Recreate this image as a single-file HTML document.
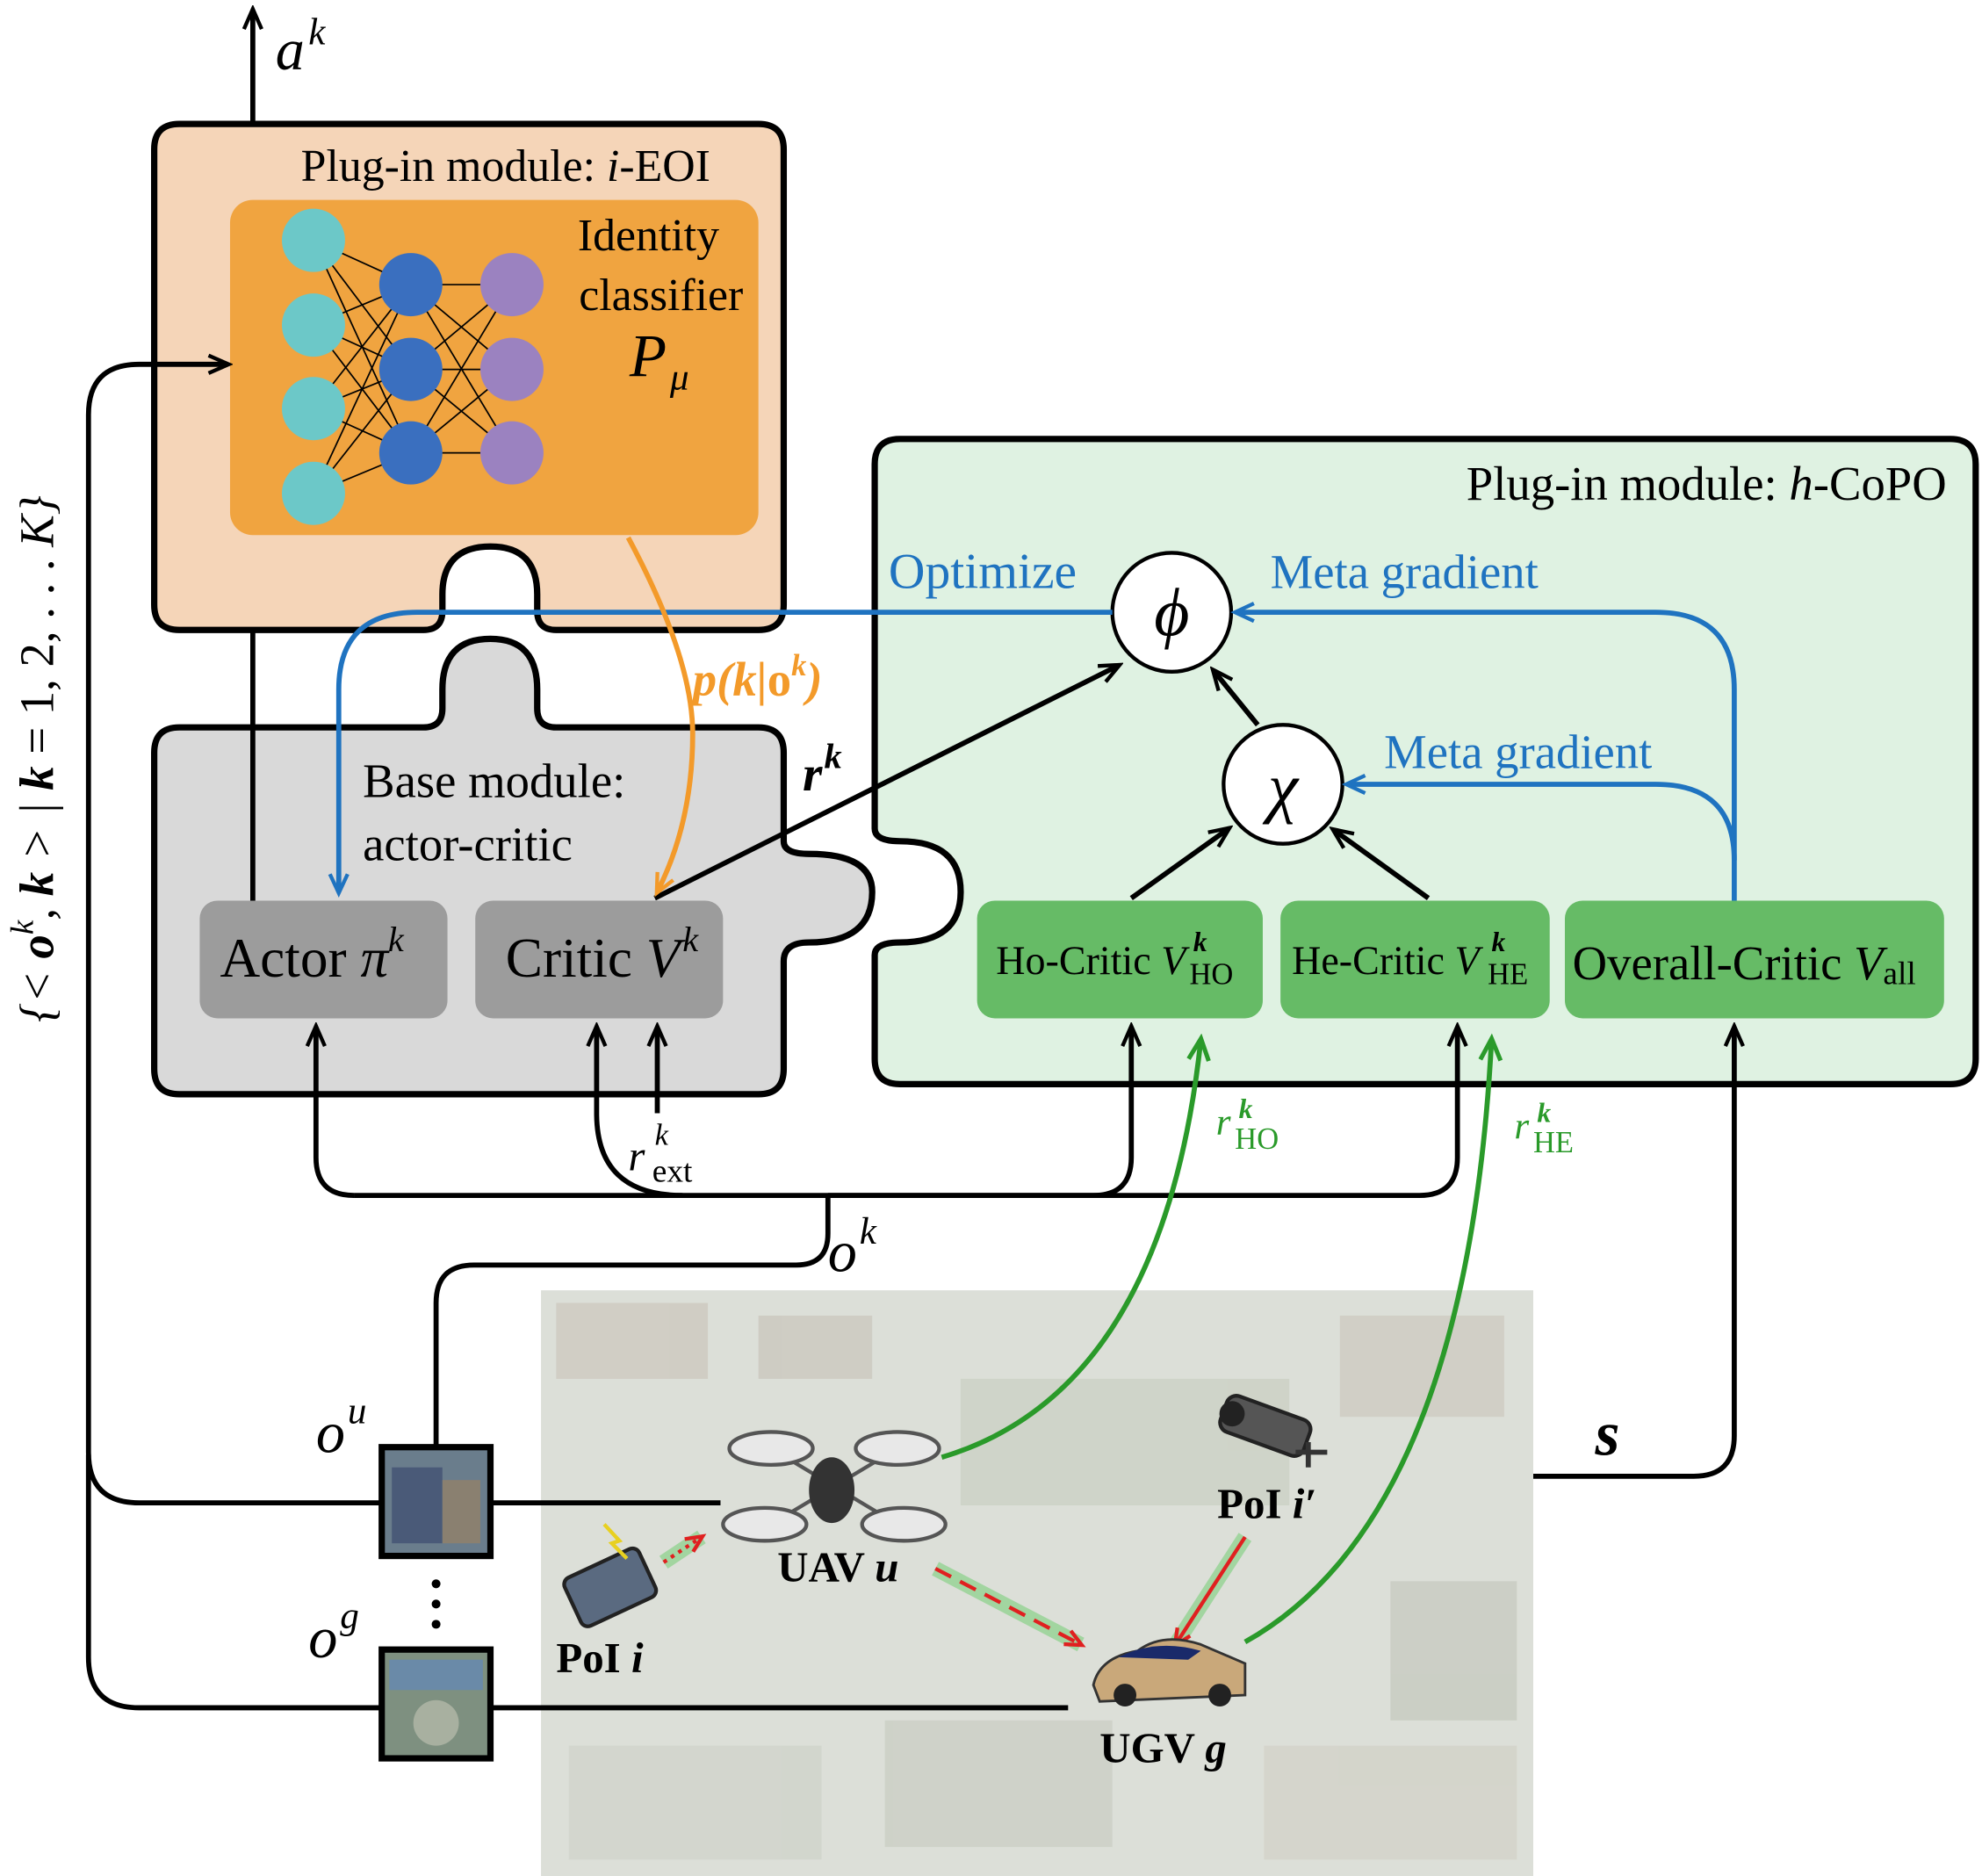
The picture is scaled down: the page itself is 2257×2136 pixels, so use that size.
<!DOCTYPE html>
<html><head><meta charset="utf-8"><style>
html,body{margin:0;padding:0;background:#fff}
svg{display:block}
text{font-family:"Liberation Serif",serif}
</style></head><body>
<svg width="2257" height="2136" viewBox="0 0 1568 1483" preserveAspectRatio="none" xmlns="http://www.w3.org/2000/svg">
<defs>
<marker id="ak" markerWidth="20" markerHeight="20" refX="16" refY="8" orient="auto" markerUnits="userSpaceOnUse" viewBox="0 0 20 16"><path d="M1,1 L17,8 L1,15" fill="none" stroke="#000" stroke-width="3"/></marker>
<marker id="ab" markerWidth="20" markerHeight="20" refX="15" refY="8" orient="auto" markerUnits="userSpaceOnUse" viewBox="0 0 20 16"><path d="M1,1 L16,8 L1,15" fill="none" stroke="#1f73c0" stroke-width="3"/></marker>
<marker id="ao" markerWidth="20" markerHeight="20" refX="15" refY="8" orient="auto" markerUnits="userSpaceOnUse" viewBox="0 0 20 16"><path d="M1,1 L16,8 L1,15" fill="none" stroke="#f39a2a" stroke-width="3"/></marker>
<marker id="ag" markerWidth="22" markerHeight="22" refX="17" refY="9" orient="auto" markerUnits="userSpaceOnUse" viewBox="0 0 22 18"><path d="M1,1 L18,9 L1,17" fill="none" stroke="#2a9a2a" stroke-width="3.5"/></marker>
<marker id="ar" markerWidth="18" markerHeight="18" refX="13" refY="7" orient="auto" markerUnits="userSpaceOnUse" viewBox="0 0 18 14"><path d="M1,1 L14,7 L1,13" fill="none" stroke="#e02020" stroke-width="3"/></marker>
</defs>

<rect x="428" y="1020" width="785" height="463" fill="#dcdfd8"/>
<g opacity="0.25">
<rect x="440" y="1030" width="120" height="60" fill="#b09a8a"/>
<rect x="600" y="1040" width="90" height="50" fill="#a89888"/>
<rect x="1060" y="1040" width="130" height="80" fill="#b0a090"/>
<rect x="1100" y="1250" width="100" height="110" fill="#9aa090"/>
<rect x="450" y="1380" width="200" height="90" fill="#b8bcb0"/>
<rect x="700" y="1360" width="180" height="100" fill="#a8ac9c"/>
<rect x="1000" y="1380" width="200" height="90" fill="#c0b8a8"/>
<rect x="760" y="1090" width="260" height="100" fill="#a9b39c"/>
</g>

<path d="M142,98 H600 Q620,98 620,118 V478 Q620,498 600,498 H440 Q425,498 425,483 V470 Q425,432 388,432 Q350,432 350,470 V483 Q350,498 335,498 H142 Q122,498 122,478 V118 Q122,98 142,98 Z" fill="#f5d5b8" stroke="#000" stroke-width="5"/>
<rect x="182" y="158" width="418" height="265" rx="18" fill="#f0a440"/>
<g stroke="#000" stroke-width="1.2">
<line x1="248" y1="190" x2="325" y2="225"/><line x1="248" y1="190" x2="325" y2="292"/><line x1="248" y1="190" x2="325" y2="358"/>
<line x1="248" y1="257" x2="325" y2="225"/><line x1="248" y1="257" x2="325" y2="292"/><line x1="248" y1="257" x2="325" y2="358"/>
<line x1="248" y1="323" x2="325" y2="225"/><line x1="248" y1="323" x2="325" y2="292"/><line x1="248" y1="323" x2="325" y2="358"/>
<line x1="248" y1="390" x2="325" y2="225"/><line x1="248" y1="390" x2="325" y2="292"/><line x1="248" y1="390" x2="325" y2="358"/>
<line x1="325" y1="225" x2="405" y2="225"/><line x1="325" y1="225" x2="405" y2="292"/><line x1="325" y1="225" x2="405" y2="358"/>
<line x1="325" y1="292" x2="405" y2="225"/><line x1="325" y1="292" x2="405" y2="292"/><line x1="325" y1="292" x2="405" y2="358"/>
<line x1="325" y1="358" x2="405" y2="225"/><line x1="325" y1="358" x2="405" y2="292"/><line x1="325" y1="358" x2="405" y2="358"/>
</g>
<g fill="#6cc8c8"><circle cx="248" cy="190" r="25"/><circle cx="248" cy="257" r="25"/><circle cx="248" cy="323" r="25"/><circle cx="248" cy="390" r="25"/></g>
<g fill="#3a6fbf"><circle cx="325" cy="225" r="25"/><circle cx="325" cy="292" r="25"/><circle cx="325" cy="358" r="25"/></g>
<g fill="#9b82c0"><circle cx="405" cy="225" r="25"/><circle cx="405" cy="292" r="25"/><circle cx="405" cy="358" r="25"/></g>
<text x="400" y="143" font-size="36" text-anchor="middle">Plug-in module: <tspan font-style="italic">i</tspan>-EOI</text>
<text x="513" y="198" font-size="36" text-anchor="middle">Identity</text>
<text x="523" y="245" font-size="36" text-anchor="middle">classifier</text>
<text x="498" y="297" font-size="48" font-style="italic">P</text><text x="530" y="308" font-size="30" font-style="italic">μ</text>

<path d="M142,575 H335 Q350,575 350,560 V545 Q350,505 388,505 Q425,505 425,545 V560 Q425,575 440,575 H600 Q620,575 620,595 V665 Q620,675 640,675 Q690,675 690,705 Q690,745 640,745 Q620,745 620,760 V845 Q620,865 600,865 H142 Q122,865 122,845 V595 Q122,575 142,575 Z" fill="#d9d9d9" stroke="#000" stroke-width="5"/>
<text x="287" y="630" font-size="38">Base module:</text>
<text x="287" y="680" font-size="38">actor-critic</text>
<rect x="158" y="712" width="196" height="93" rx="14" fill="#9c9c9c"/>
<rect x="376" y="712" width="196" height="93" rx="14" fill="#9c9c9c"/>
<text x="174" y="772" font-size="44">Actor <tspan font-style="italic">π</tspan></text><text x="307" y="752" font-size="28" font-style="italic">k</text>
<text x="400" y="772" font-size="44">Critic <tspan font-style="italic">V</tspan></text><text x="540" y="752" font-size="28" font-style="italic">k</text>

<path d="M712,347 H1543 Q1563,347 1563,367 V837 Q1563,857 1543,857 H712 Q692,857 692,837 V755 Q692,745 712,745 Q760,745 760,705 Q760,665 712,665 Q692,665 692,655 V367 Q692,347 712,347 Z" fill="#dff2e2" stroke="#000" stroke-width="5"/>
<text x="1540" y="395" font-size="38" text-anchor="end">Plug-in module: <tspan font-style="italic">h</tspan>-CoPO</text>
<rect x="773" y="712" width="226" height="93" rx="14" fill="#66bb66"/>
<rect x="1013" y="712" width="213" height="93" rx="14" fill="#66bb66"/>
<rect x="1238" y="712" width="300" height="93" rx="14" fill="#66bb66"/>
<text x="788" y="770" font-size="32">Ho-Critic <tspan font-style="italic">V</tspan></text>
<text x="944" y="752" font-size="22" font-style="italic" font-weight="bold">k</text>
<text x="941" y="778" font-size="24">HO</text>
<text x="1022" y="770" font-size="32">He-Critic <tspan font-style="italic">V</tspan></text>
<text x="1180" y="752" font-size="22" font-style="italic" font-weight="bold">k</text>
<text x="1177" y="778" font-size="24">HE</text>
<text x="1244" y="774" font-size="38">Overall-Critic <tspan font-style="italic">V</tspan><tspan font-size="26" dy="4">all</tspan></text>

<circle cx="927" cy="484" r="47" fill="#fff" stroke="#000" stroke-width="3"/>
<text x="927" y="502" font-size="54" font-style="italic" text-anchor="middle">ϕ</text>
<circle cx="1015" cy="620" r="47" fill="#fff" stroke="#000" stroke-width="3"/>
<text x="1015" y="640" font-size="54" font-style="italic" text-anchor="middle">χ</text>

<g fill="none" stroke="#1f73c0" stroke-width="4">
<path d="M880,484 H330 Q268,484 268,545 V705" marker-end="url(#ab)"/>
<path d="M1372,712 V545 Q1372,484 1310,484 H978" marker-end="url(#ab)"/>
<path d="M1372,680 Q1372,620 1310,620 H1066" marker-end="url(#ab)"/>
</g>
<text x="703" y="465" font-size="40" fill="#1f73c0">Optimize</text>
<text x="1005" y="465" font-size="38" fill="#1f73c0">Meta gradient</text>
<text x="1095" y="607" font-size="38" fill="#1f73c0">Meta gradient</text>

<g fill="none" stroke="#000" stroke-width="4" marker-end="url(#ak)">
<path d="M518,710 L885,526"/>
<path d="M895,710 L972,655"/>
<path d="M1130,710 L1055,656"/>
<path d="M995,573 L960,530"/>
</g>
<text x="635" y="625" font-size="40" font-style="italic" font-weight="bold">r</text><text x="652" y="607" font-size="28" font-style="italic" font-weight="bold">k</text>

<path d="M497,425 Q548,520 548,580 Q548,650 520,705" fill="none" stroke="#f39a2a" stroke-width="4" marker-end="url(#ao)"/>
<text x="548" y="550" font-size="38" fill="#f39a2a" font-style="italic" font-weight="bold">p(k|<tspan font-style="normal">o</tspan><tspan font-size="24" dy="-16">k</tspan><tspan dy="16">)</tspan></text>

<g fill="none" stroke="#000" stroke-width="4">
<path d="M200,712 V500"/>
<path d="M200,97 V8" marker-end="url(#ak)"/>
</g>
<text x="218" y="55" font-size="46" font-style="italic">a</text><text x="244" y="35" font-size="30" font-style="italic">k</text>

<g fill="none" stroke="#000" stroke-width="4">
<path d="M280,945 Q250,945 250,915 V812" marker-end="url(#ak)"/>
<path d="M280,945 H865 Q895,945 895,915 V812" marker-end="url(#ak)"/>
<path d="M540,945 Q472,945 472,880 V812" marker-end="url(#ak)"/>
<path d="M520,880 V812" marker-end="url(#ak)"/>
<path d="M655,945 H1123 Q1153,945 1153,915 V812" marker-end="url(#ak)"/>
<path d="M655,945 V975 Q655,1000 630,1000 H375 Q345,1000 345,1030 V1142"/>
<path d="M1213,1167 H1340 Q1372,1167 1372,1135 V812" marker-end="url(#ak)"/>
<path d="M300,1188 H110 Q70,1188 70,1148 V328 Q70,288 110,288 H180" marker-end="url(#ak)"/>
<path d="M300,1350 H110 Q70,1350 70,1310 V1150"/>
<path d="M390,1188 H570"/>
<path d="M390,1350 H845"/>
</g>
<text x="497" y="925" font-size="34" font-style="italic">r</text><text x="518" y="905" font-size="24" font-style="italic">k</text><text x="516" y="934" font-size="26">ext</text>
<text x="655" y="1005" font-size="46" font-style="italic">o</text><text x="680" y="983" font-size="30" font-style="italic">k</text>
<text x="1262" y="1150" font-size="50" font-style="italic" font-weight="bold">s</text>
<text x="250" y="1148" font-size="46" font-style="italic">o</text><text x="275" y="1125" font-size="30" font-style="italic">u</text>
<text x="244" y="1310" font-size="46" font-style="italic">o</text><text x="269" y="1287" font-size="30" font-style="italic">g</text>
<g fill="#000"><circle cx="345" cy="1252" r="3.5"/><circle cx="345" cy="1268" r="3.5"/><circle cx="345" cy="1284" r="3.5"/></g>

<rect x="302" y="1144" width="86" height="86" fill="#6a7d8c" stroke="#000" stroke-width="5"/>
<rect x="310" y="1160" width="40" height="60" fill="#4a5a78"/>
<rect x="350" y="1170" width="30" height="50" fill="#8a8070"/>
<rect x="302" y="1304" width="86" height="86" fill="#7e9080" stroke="#000" stroke-width="5"/>
<rect x="308" y="1312" width="74" height="24" fill="#6a8aa8"/>
<circle cx="345" cy="1362" r="18" fill="#a8b0a0"/>

<g fill="none" stroke="#2a9a2a" stroke-width="4">
<path d="M745,1152 Q920,1100 950,822" marker-end="url(#ag)"/>
<path d="M985,1298 Q1160,1200 1180,822" marker-end="url(#ag)"/>
</g>
<text x="962" y="897" font-size="30" fill="#2a9a2a" font-style="italic">r</text><text x="980" y="884" font-size="22" fill="#2a9a2a" font-style="italic" font-weight="bold">k</text><text x="977" y="908" font-size="24" fill="#2a9a2a">HO</text>
<text x="1198" y="900" font-size="30" fill="#2a9a2a" font-style="italic">r</text><text x="1216" y="887" font-size="22" fill="#2a9a2a" font-style="italic" font-weight="bold">k</text><text x="1213" y="911" font-size="24" fill="#2a9a2a">HE</text>

<g fill="none" stroke="#7ccf7c" stroke-width="12" opacity="0.6">
<path d="M740,1240 L855,1300"/><path d="M985,1215 L930,1300"/><path d="M525,1235 L555,1215"/>
</g>
<path d="M740,1240 L855,1300" fill="none" stroke="#e02020" stroke-width="3" stroke-dasharray="14,8" marker-end="url(#ar)"/>
<path d="M985,1215 L930,1300" fill="none" stroke="#e02020" stroke-width="3" marker-end="url(#ar)"/>
<path d="M525,1235 L555,1215" fill="none" stroke="#e02020" stroke-width="3" stroke-dasharray="3,4" marker-end="url(#ar)"/>

<g stroke="#555" stroke-width="3" fill="#e8e8e8">
<line x1="610" y1="1145" x2="710" y2="1205"/><line x1="710" y1="1145" x2="610" y2="1205"/>
<ellipse cx="610" cy="1145" rx="33" ry="13"/><ellipse cx="710" cy="1145" rx="33" ry="13"/>
<ellipse cx="605" cy="1205" rx="33" ry="13"/><ellipse cx="715" cy="1205" rx="33" ry="13"/>
</g>
<ellipse cx="658" cy="1178" rx="18" ry="26" fill="#333"/>
<text x="615" y="1250" font-size="34" font-weight="bold">UAV <tspan font-style="italic">u</tspan></text>

<path d="M865,1332 Q870,1310 900,1305 Q920,1290 950,1300 L985,1315 L985,1340 L870,1345 Z" fill="#c9a87a" stroke="#333" stroke-width="2"/>
<path d="M885,1310 Q915,1295 950,1305 L940,1312 Z" fill="#1a2a6a"/>
<circle cx="890" cy="1340" r="9" fill="#222"/><circle cx="965" cy="1340" r="9" fill="#222"/>
<text x="870" y="1393" font-size="34" font-weight="bold">UGV <tspan font-style="italic">g</tspan></text>

<g transform="rotate(-25 480 1255)">
<rect x="450" y="1235" width="65" height="42" rx="6" fill="#5a6a80" stroke="#222" stroke-width="3"/>
</g>
<path d="M478,1205 L490,1218 L484,1220 L496,1232" fill="none" stroke="#e8d020" stroke-width="3"/>
<text x="440" y="1322" font-size="34" font-weight="bold">PoI <tspan font-style="italic">i</tspan></text>

<g transform="rotate(20 1000 1130)">
<rect x="965" y="1112" width="70" height="30" rx="8" fill="#555" stroke="#222" stroke-width="3"/>
<circle cx="972" cy="1127" r="10" fill="#222"/>
</g>
<path d="M1035,1140 V1160 M1025,1148 H1050" stroke="#333" stroke-width="4"/>
<text x="963" y="1200" font-size="34" font-weight="bold">PoI <tspan font-style="italic">i′</tspan></text>

<text transform="translate(42,600) rotate(-90)" font-size="38" text-anchor="middle" font-style="italic">{&lt; <tspan font-weight="bold">o</tspan><tspan font-size="26" dy="-16">k</tspan><tspan dy="16">, <tspan font-weight="bold">k</tspan> &gt; | <tspan font-weight="bold">k</tspan> <tspan font-style="normal">= 1, 2, . . .</tspan> K}</tspan></text>
</svg>
</body></html>
